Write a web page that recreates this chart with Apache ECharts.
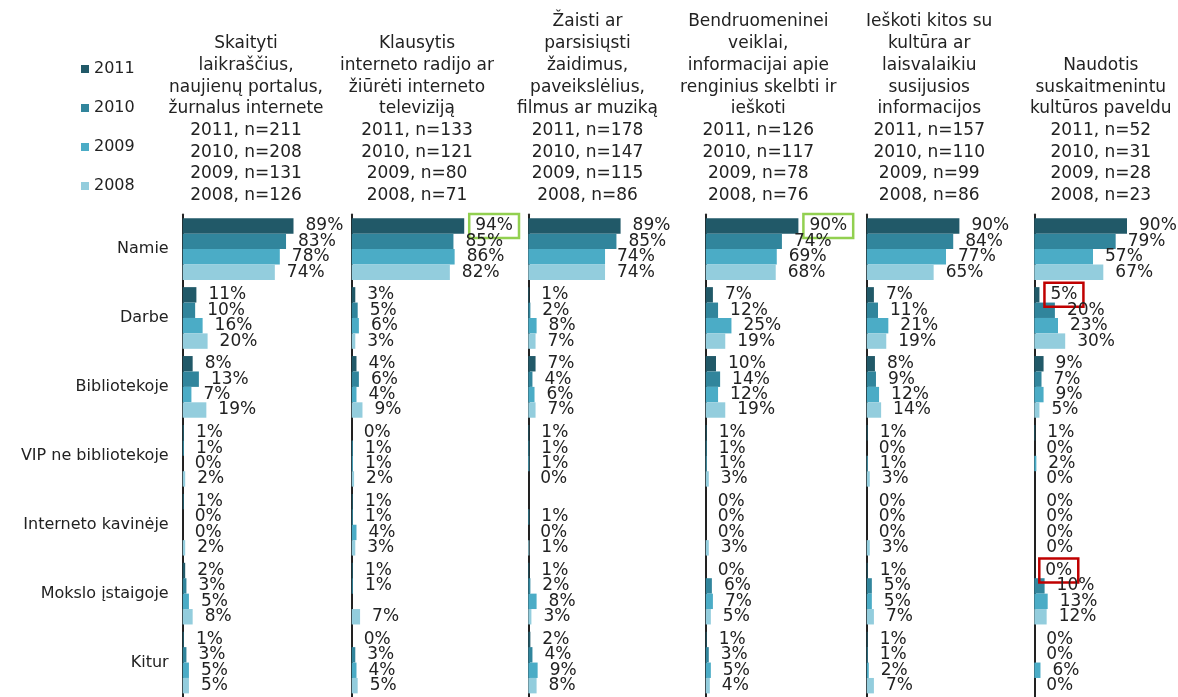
<!DOCTYPE html>
<html>
<head>
<meta charset="utf-8">
<script src="https://cdn.jsdelivr.net/npm/echarts@6/dist/echarts.min.js"></script>
<style>
  html, body { margin: 0; padding: 0; background: #fff; }
  #chart { width: 1178px; height: 697px; }
</style>
</head>
<body>
<div id="chart"></div>
<script>
// Where people use the internet for each activity, share of users by year (%)
const categories = ['Namie', 'Darbe', 'Bibliotekoje', 'VIP ne bibliotekoje',
                    'Interneto kavinėje', 'Mokslo įstaigoje', 'Kitur'];
const years = ['2011', '2010', '2009', '2008'];

const panelTitles = [
  'Skaityti\nlaikraščius,\nnaujienų portalus,\nžurnalus internete',
  'Klausytis\ninterneto radijo ar\nžiūrėti interneto\ntelevizij\u0105',
  'Žaisti ar\nparsisiųsti\nžaidimus,\npaveikslėlius,\nfilmus ar muziką',
  'Bendruomeninei\nveiklai,\ninformacijai apie\nrenginius skelbti ir\nieškoti',
  'Ieškoti kitos su\nkultūra ar\nlaisvalaikiu\nsusijusios\ninformacijos',
  'Naudotis\nsuskaitmenintu\nkultūros paveldu'
];

// respondents per year (2011, 2010, 2009, 2008) in each panel
const sampleSizes = [
  [211, 208, 131, 126],
  [133, 121, 80, 71],
  [178, 147, 115, 86],
  [126, 117, 78, 76],
  [157, 110, 99, 86],
  [52, 31, 28, 23]
];

// rows: 2011, 2010, 2009, 2008; columns follow `categories`
const readNews = [
  [89, 11, 8, 1, 1, 2, 1],
  [83, 10, 13, 1, 0, 3, 3],
  [78, 16, 7, 0, 0, 5, 5],
  [74, 20, 19, 2, 2, 8, 5]
];
const radioTv = [
  [94, 3, 4, 0, 1, 1, 0],
  [85, 5, 6, 1, 1, 1, 3],
  [86, 6, 4, 1, 4, null, 4],
  [82, 3, 9, 2, 3, 7, 5]
];
const gamesMedia = [
  [89, 1, 7, 1, null, 1, 2],
  [85, 2, 4, 1, 1, 2, 4],
  [74, 8, 6, 1, 0, 8, 9],
  [74, 7, 7, 0, 1, 3, 8]
];
const community = [
  [90, 7, 10, 1, 0, 0, 1],
  [74, 12, 14, 1, 0, 6, 3],
  [69, 25, 12, 1, 0, 7, 5],
  [68, 19, 19, 3, 3, 5, 4]
];
const cultureInfo = [
  [90, 7, 8, 1, 0, 1, 1],
  [84, 11, 9, 0, 0, 5, 1],
  [77, 21, 12, 1, 0, 5, 2],
  [65, 19, 14, 3, 3, 7, 7]
];
const digitalHeritage = [
  [90, 5, 9, 1, 0, 0, 0],
  [79, 20, 7, 0, 0, 10, 0],
  [57, 23, 9, 2, 0, 13, 6],
  [67, 30, 5, 0, 0, 12, 0]
];

const panelData = [readNews, radioTv, gamesMedia, community, cultureInfo, digitalHeritage];

// highlighted labels: [panel, yearIndex, categoryIndex, frame colour]
const framedLabels = [
  [1, 0, 0, '#92d050'],
  [3, 0, 0, '#92d050'],
  [5, 0, 1, '#c00000'],
  [5, 0, 5, '#c00000']
];

// ---- layout / style ----
const FONT = 'DejaVu Sans, Verdana, sans-serif';
const TEXT = '#222';
const yearColors = ['#215968', '#31859c', '#4bacc6', '#93cddd'];
const panelLeft = [182.7, 351.7, 528.3, 705.7, 866.7, 1034.3];
const pxPerPercent = [1.245, 1.197, 1.037, 1.03, 1.03, 1.03];
const titleCenter = [246, 417, 587.5, 758.3, 929.2, 1100.8];
const plotTop = 214.6, plotHeight = 485;

const grids = [], xAxes = [], yAxes = [], series = [], titles = [];

panelData.forEach((rows, p) => {
  grids.push({ left: panelLeft[p], top: plotTop, width: 100 * pxPerPercent[p], height: plotHeight });
  xAxes.push({ type: 'value', gridIndex: p, min: 0, max: 100, show: false });
  yAxes.push({
    type: 'category', gridIndex: p, data: categories, inverse: true,
    axisLine: { show: true, lineStyle: { color: '#222', width: 2 } },
    axisTick: { show: false },
    axisLabel: { show: p === 0, fontSize: 16, fontFamily: FONT, color: TEXT, margin: 14 }
  });

  const nLines = years.map((y, i) => `${y}, n=${sampleSizes[p][i]}`).join('\n');
  titles.push({
    text: panelTitles[p] + '\n' + nLines,
    left: titleCenter[p], top: 206.5, padding: 0,
    textAlign: 'center', textVerticalAlign: 'bottom',
    textStyle: { fontSize: 17, lineHeight: 21.7, fontWeight: 'normal', fontFamily: FONT, color: TEXT }
  });

  rows.forEach((vals, yi) => {
    const data = vals.map((v, ci) => {
      const f = framedLabels.find(d => d[0] === p && d[1] === yi && d[2] === ci);
      if (!f) return v;
      return {
        value: v,
        label: { borderColor: f[3], borderWidth: 2.5, padding: [4, 6, 3, 6], distance: 5 }
      };
    });
    series.push({
      type: 'bar', name: years[yi], xAxisIndex: p, yAxisIndex: p,
      data: data,
      itemStyle: { color: yearColors[yi] },
      barGap: '0%', barCategoryGap: '10.5%',
      label: {
        show: true, position: 'right', distance: 12,
        formatter: '{c}%', fontSize: 17, fontFamily: FONT, color: TEXT
      },
      emphasis: { disabled: true },
      silent: true
    });
  });
});

const chart = echarts.init(document.getElementById('chart'), null, { renderer: 'canvas' });
chart.setOption({
  animation: false,
  backgroundColor: '#fff',
  title: titles,
  legend: {
    data: years, orient: 'vertical', left: 81, top: 60, padding: 0,
    itemGap: 21, itemWidth: 8, itemHeight: 8, icon: 'rect', selectedMode: false,
    textStyle: { fontSize: 16, lineHeight: 18, fontFamily: FONT, color: TEXT }
  },
  grid: grids,
  xAxis: xAxes,
  yAxis: yAxes,
  series: series
});
</script>
</body>
</html>
